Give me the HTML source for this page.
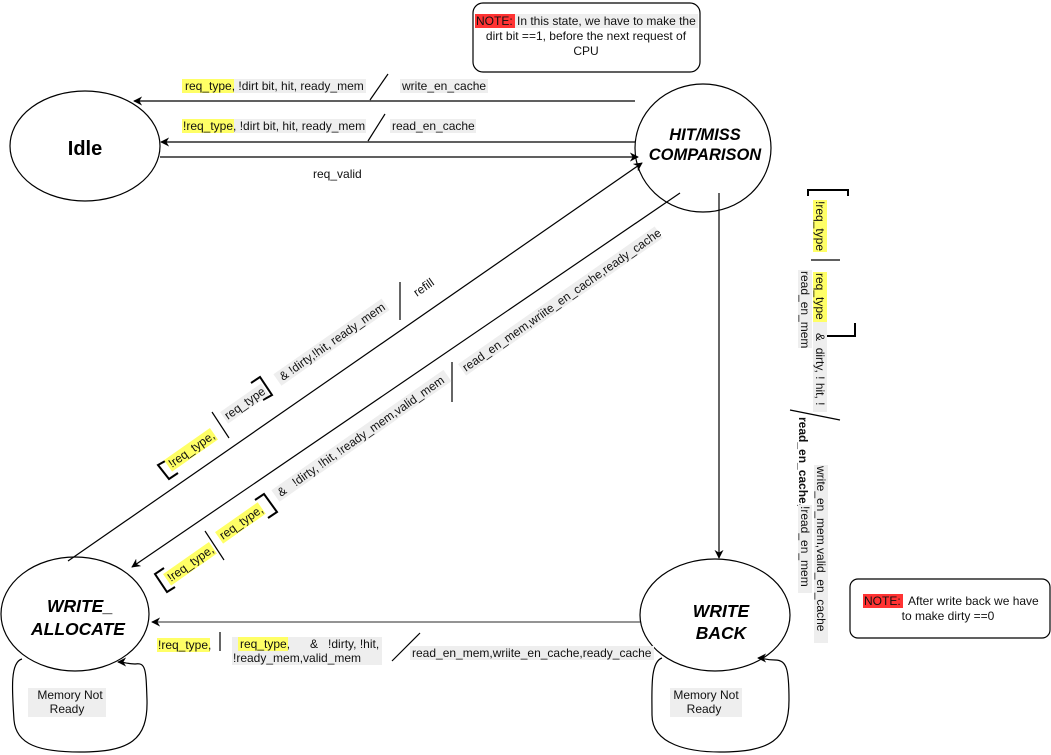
<!DOCTYPE html>
<html><head><meta charset="utf-8"><style>
html,body{margin:0;padding:0;background:#fff;}
svg{display:block;font-family:"Liberation Sans",Arial,sans-serif;}
</style></head><body>
<svg width="1051" height="755" viewBox="0 0 1051 755" xmlns="http://www.w3.org/2000/svg">
<defs>
<marker id="a" viewBox="0 0 10 10" refX="9" refY="5" markerWidth="9" markerHeight="9" orient="auto" markerUnits="userSpaceOnUse"><path d="M0,0 L10,5 L0,10 L3,5 z" fill="#000"/></marker>
</defs>
<g fill="none" stroke="#000" stroke-width="1.2">
<rect x="473" y="3" width="227" height="69" rx="10"/>
<rect x="850" y="579" width="200" height="59" rx="8"/>
<ellipse cx="85" cy="146" rx="75" ry="55"/>
<ellipse cx="703" cy="148" rx="68" ry="64"/>
<ellipse cx="75" cy="614" rx="74" ry="57"/>
<ellipse cx="715" cy="615" rx="75" ry="56"/>
<line x1="635" y1="101" x2="134" y2="101" marker-end="url(#a)"/>
<line x1="635" y1="142" x2="161" y2="142" marker-end="url(#a)"/>
<line x1="160" y1="157" x2="638" y2="157" marker-end="url(#a)"/>
<line x1="68" y1="561" x2="642" y2="163" marker-end="url(#a)"/>
<line x1="680" y1="193" x2="132" y2="567" marker-end="url(#a)"/>
<line x1="719" y1="193" x2="719" y2="558" marker-end="url(#a)"/>
<line x1="640" y1="622" x2="152" y2="622" stroke="#555" marker-end="url(#a)"/>
<path d="M22,659 C10,662 12,690 14,720 C16,745 40,752 80,752 C130,752 148,740 147,700 C146,670 146,662 135,664 C128,664 124,662 118,662" marker-end="url(#a)"/>
<path d="M662,658 C650,662 652,690 652,715 C652,745 690,752 720,752 C770,752 789,740 789,700 C789,670 787,660 775,660 C766,660 762,658 758,658" marker-end="url(#a)"/>
<line x1="370" y1="100" x2="388" y2="74"/>
<line x1="368" y1="141" x2="385" y2="114"/>
<line x1="400" y1="282" x2="400" y2="320"/>
<line x1="452" y1="362" x2="452" y2="402"/>
<line x1="212" y1="412" x2="229" y2="438"/>
<line x1="205" y1="531" x2="224" y2="560"/>
<line x1="220" y1="632" x2="220" y2="651"/>
<line x1="392" y1="661" x2="420" y2="633"/>
<line x1="811" y1="260" x2="840" y2="260"/>
<line x1="790" y1="410" x2="840" y2="420"/>
</g>
<g fill="none" stroke="#000" stroke-width="2">
<path d="M167,460 L158,465 L169,479 L178,473"/>
<path d="M251,383 L260,377 L272,395 L263,400"/>
<path d="M164,568 L155,574 L167,592 L175,587"/>
<path d="M255,500 L264,494 L277,512 L268,518"/>
<path d="M808,196 L808,190 L848,190 L848,196"/>
<path d="M815,336 L855,336 L855,323"/>
</g>
<g font-weight="bold" text-anchor="middle" fill="#000">
<text x="85" y="155" font-size="20">Idle</text>
<text x="705" y="140" font-size="16.5" font-style="italic">HIT/MISS</text>
<text x="705" y="160" font-size="16.5" font-style="italic">COMPARISON</text>
<text x="80" y="612" font-size="17.5" font-style="italic">WRITE_</text>
<text x="78" y="635" font-size="17.5" font-style="italic">ALLOCATE</text>
<text x="721" y="617" font-size="17.5" font-style="italic">WRITE</text>
<text x="721" y="639" font-size="17.5" font-style="italic">BACK</text>
</g>
<g font-size="12" fill="#111">
<rect x="475" y="14" width="40" height="14" fill="#f33"/>
<rect x="515" y="14" width="183" height="14" fill="#eee"/>
<text x="476" y="25">NOTE:</text><text x="517" y="25">In this state, we have to make the</text>
<text x="586" y="40" text-anchor="middle">dirt bit ==1, before the next request of</text>
<text x="586" y="55" text-anchor="middle">CPU</text>
<rect x="863" y="594" width="40" height="14" fill="#f33"/>
<text x="864" y="605">NOTE:</text><text x="908" y="605">After write back we have</text>
<text x="948" y="620" text-anchor="middle">to make dirty ==0</text>
<rect x="182" y="79" width="52" height="14" fill="#ff6"/>
<rect x="234" y="79" width="132" height="14" fill="#eee"/>
<text x="185" y="90">req_type, !dirt bit, hit,  ready_mem</text>
<rect x="400" y="79" width="88" height="14" fill="#eee"/>
<text x="402" y="90">write_en_cache</text>
<rect x="182" y="119" width="52" height="14" fill="#ff6"/>
<rect x="234" y="119" width="132" height="14" fill="#eee"/>
<text x="183" y="130">!req_type, !dirt bit, hit, ready_mem</text>
<rect x="390" y="119" width="86" height="14" fill="#eee"/>
<text x="392" y="130">read_en_cache</text>
<text x="313" y="178">req_valid</text>
<g transform="translate(172,468) rotate(-35)"><rect x="-2" y="-11" width="56" height="14" fill="#ff6"/><text x="0" y="0">!req_type,</text></g>
<g transform="translate(228,420) rotate(-35)"><rect x="-2" y="-11" width="50" height="14" fill="#eee"/><text x="0" y="0">req_type</text></g>
<g transform="translate(283,381) rotate(-35)"><rect x="-4" y="-11" width="132" height="14" fill="#eee"/><text x="0" y="0">&amp; !dirty,!hit, ready_mem</text></g>
<g transform="translate(417,297) rotate(-35)"><text x="0" y="0">refill</text></g>
<g transform="translate(171,582) rotate(-35)"><rect x="-2" y="-11" width="56" height="14" fill="#ff6"/><text x="0" y="0">!req_type,</text></g>
<g transform="translate(223,540) rotate(-35)"><rect x="-2" y="-11" width="52" height="14" fill="#ff6"/><text x="0" y="0">req_type,</text></g>
<g transform="translate(281,497) rotate(-35)"><rect x="-4" y="-11" width="210" height="14" fill="#eee"/><text x="0" y="0" xml:space="preserve">&amp;   !dirty, !hit, !ready_mem,valid_mem</text></g>
<g transform="translate(466,372) rotate(-35)"><rect x="-2" y="-11" width="240" height="14" fill="#eee"/><text x="0" y="0">read_en_mem,wriite_en_cache,ready_cache</text></g>
<rect x="157" y="638" width="53" height="14" fill="#ff6"/>
<text x="158" y="649">!req_type,</text>
<rect x="232" y="637" width="150" height="28" fill="#eee"/>
<rect x="238" y="637" width="50" height="14" fill="#ff6"/>
<text x="240" y="648" xml:space="preserve">req_type,      &amp;   !dirty, !hit,</text>
<text x="233" y="662">!ready_mem,valid_mem</text>
<rect x="410" y="646" width="244" height="14" fill="#eee"/>
<text x="412" y="657">read_en_mem,wriite_en_cache,ready_cache</text>
<rect x="28" y="688" width="78" height="29" fill="#eee"/>
<text x="70" y="699" text-anchor="middle">Memory Not</text>
<text x="67" y="713" text-anchor="middle">Ready</text>
<rect x="670" y="688" width="72" height="29" fill="#eee"/>
<text x="706" y="699" text-anchor="middle">Memory Not</text>
<text x="704" y="713" text-anchor="middle">Ready</text>
<g transform="translate(816,200) rotate(90)"><rect x="0" y="-11" width="52" height="14" fill="#ff6"/><text x="1" y="0">!req_type</text></g>
<g transform="translate(816,272) rotate(90)"><rect x="0" y="-11" width="50" height="14" fill="#ff6"/><rect x="50" y="-11" width="90" height="14" fill="#eee"/><text x="1" y="0" xml:space="preserve">req_type    &amp;  dirty, ! hit, !</text></g>
<g transform="translate(801,270) rotate(90)"><rect x="0" y="-11" width="78" height="14" fill="#eee"/><text x="1" y="0">read_en_mem</text></g>
<g transform="translate(799,417) rotate(90)"><text x="0" y="0" font-weight="bold">read_en_cache,</text></g>
<g transform="translate(801,505) rotate(90)"><rect x="0" y="-11" width="88" height="14" fill="#eee"/><text x="1" y="0">!read_en_mem</text></g>
<g transform="translate(817,465) rotate(90)"><rect x="0" y="-11" width="178" height="14" fill="#eee"/><text x="1" y="0">write_en_mem,valid_en_cache</text></g>
</g>
</svg>
</body></html>
